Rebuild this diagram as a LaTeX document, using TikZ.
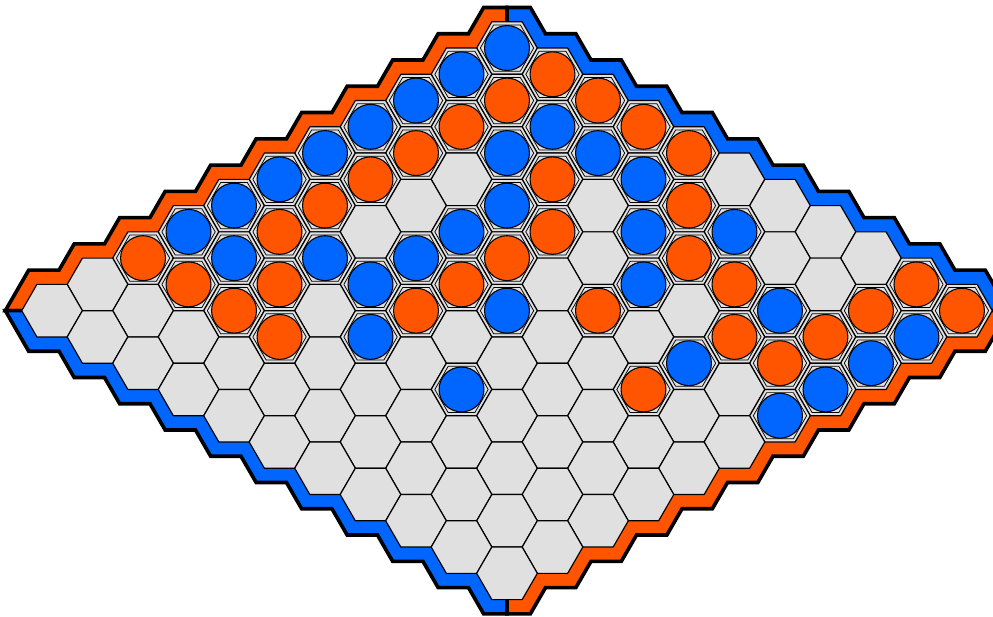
\documentclass[tikz,border=0pt]{standalone}
\usetikzlibrary{calc}
\definecolor{cellgray}{RGB}{224,224,224}
\definecolor{hexblue}{RGB}{0,102,255}
\definecolor{hexorange}{RGB}{255,85,0}

\tikzset{
  hexcell/.style={fill=cellgray, draw=black, line width=1.1pt, line join=round},
  hexring/.style={draw=black, line width=0.7pt, line join=round},
  band/.style={draw=black, line width=3.4pt, line join=miter},
  bluestone/.style={fill=hexblue, draw=black, line width=1pt},
  orangestone/.style={fill=hexorange, draw=black, line width=1pt},
}

\begin{document}
\begin{tikzpicture}
  \useasboundingbox (0,0) rectangle (32.74,-20.31);
  % cell centres, (0,0) on top, (10,0) left, (0,10) right
  \foreach \i in {0,...,10}
    \foreach \j in {0,...,10}
      \coordinate (c-\i-\j) at ({16.716+1.5*(\j-\i)},{-1.583-0.866*(\i+\j)});
  \def\bx{0.27}\def\by{0.47}\def\bt{0.54}

  % edge bands, inner side runs under the cells
  % orange, upper left
  \filldraw[band, fill=hexorange] ($(c-10-0)+(180:1)$) -- ($(c-10-0)+(180:1)+(-\bt,0)$)
    \foreach \i in {10,...,1} { -- ($(c-\i-0)+(120:1)+(-\bx,\by)$) -- ($(c-\i-0)+(60:1)+(-\bx,\by)$) }
    -- ($(c-0-0)+(120:1)+(-\bx,\by)$) -- ($(c-0-0)+(0,0.866+\by)$) -- ($(c-0-0)+(0,0.866)$)
    \foreach \i in {0,...,10} { -- (c-\i-0) } -- cycle;
  % blue, upper right
  \filldraw[band, fill=hexblue] ($(c-0-0)+(0,0.866)$) -- ($(c-0-0)+(0,0.866+\by)$)
    \foreach \j in {0,...,9} { -- ($(c-0-\j)+(60:1)+(\bx,\by)$) -- ($(c-0-\j)+(0:1)+(\bx,\by)$) }
    -- ($(c-0-10)+(60:1)+(\bx,\by)$) -- ($(c-0-10)+(0:1)+(\bt,0)$) -- ($(c-0-10)+(0:1)$)
    \foreach \j in {10,...,0} { -- (c-0-\j) } -- cycle;
  % blue, lower left
  \filldraw[band, fill=hexblue] ($(c-10-0)+(180:1)$) -- ($(c-10-0)+(180:1)+(-\bt,0)$)
    \foreach \j in {0,...,9} { -- ($(c-10-\j)+(240:1)+(-\bx,-\by)$) -- ($(c-10-\j)+(300:1)+(-\bx,-\by)$) }
    -- ($(c-10-10)+(240:1)+(-\bx,-\by)$) -- ($(c-10-10)+(0,-0.866-\by)$) -- ($(c-10-10)+(0,-0.866)$)
    \foreach \j in {10,...,0} { -- (c-10-\j) } -- cycle;
  % orange, lower right
  \filldraw[band, fill=hexorange] ($(c-10-10)+(0,-0.866)$) -- ($(c-10-10)+(0,-0.866-\by)$)
    \foreach \i in {10,...,1} { -- ($(c-\i-10)+(300:1)+(\bx,-\by)$) -- ($(c-\i-10)+(0:1)+(\bx,-\by)$) }
    -- ($(c-0-10)+(300:1)+(\bx,-\by)$) -- ($(c-0-10)+(0:1)+(\bt,0)$) -- ($(c-0-10)+(0:1)$)
    \foreach \i in {0,...,10} { -- (c-\i-10) } -- cycle;

  % cells
  \foreach \i in {0,...,10}
    \foreach \j in {0,...,10}
      \draw[hexcell, shift={(c-\i-\j)}] (0:1) \foreach \a in {60,120,...,300} { -- (\a:1) } -- cycle;

  % blue stones
  \foreach \i/\j in {0/0,1/0,2/0,3/0,4/0,5/0,6/0,7/0,1/2,2/2,1/3,1/4,3/3,4/3,2/5,1/6,
                     7/1,6/2,5/3,6/3,3/6,5/5,2/8,7/4,1/10,4/8,2/10,7/6,3/10,4/10} {
    \draw[hexring, shift={(c-\i-\j)}, scale=0.88] (0:1) \foreach \a in {60,120,...,300} { -- (\a:1) } -- cycle;
    \draw[bluestone] (c-\i-\j) circle (0.74);
  }
  % orange stones
  \foreach \i/\j in {0/1,1/1,0/2,2/1,0/3,3/1,0/4,4/1,2/3,5/1,1/5,6/1,3/4,8/0,4/4,2/6,
                     8/1,7/2,5/4,2/7,0/9,8/2,6/4,4/6,1/9,0/10,8/3,3/8,2/9,3/9,5/8} {
    \draw[hexring, shift={(c-\i-\j)}, scale=0.88] (0:1) \foreach \a in {60,120,...,300} { -- (\a:1) } -- cycle;
    \draw[orangestone] (c-\i-\j) circle (0.74);
  }
\end{tikzpicture}
\end{document}
